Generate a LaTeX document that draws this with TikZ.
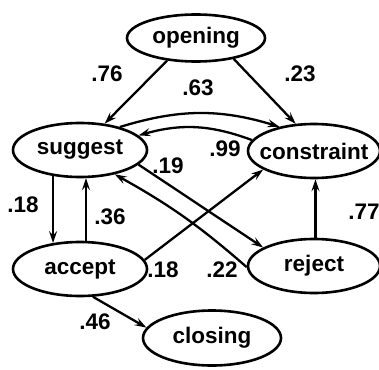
\documentclass[tikz,border=0pt]{standalone}
\usepackage{fontspec}
\setmainfont{Liberation Sans}
\usetikzlibrary{shapes.geometric,arrows.meta}
% state label set in a zero-width box so the ellipse keeps its given size
\newcommand{\statelabel}[1]{\makebox[0pt]{#1}}
\begin{document}
\begin{tikzpicture}[x=1pt,y=-1pt,
  state/.style={ellipse,draw,line width=2.6pt,minimum width=134pt,minimum height=54pt,
    inner sep=0pt,font=\fontsize{22.5}{26}\selectfont\bfseries},
  trans/.style={line width=2.3pt,-{Stealth[length=12pt,width=8pt,inset=4.5pt]}},
  prob/.style={font=\fontsize{22.5}{26}\selectfont\bfseries,inner sep=0pt}]
\useasboundingbox (0,0) rectangle (379,369);
% states
\node[state,minimum width=138pt,minimum height=47pt] (opening) at (196,38) {\statelabel{opening}};
\node[state] (suggest) at (80,150) {\statelabel{suggest}};
\node[state,minimum width=132pt] (constraint) at (314,151) {\statelabel{constraint}};
\node[state] (accept) at (80,269) {\statelabel{accept}};
\node[state,minimum width=132pt] (reject) at (314,266) {\statelabel{reject}};
\node[state,minimum width=138pt,minimum height=55pt] (closing) at (212,338) {\statelabel{closing}};
% transitions
\draw[trans] (opening.218) -- (suggest.47);
\draw[trans] (opening.331) -- (constraint.124);
\draw[trans] (suggest.30) to[bend left=17] (constraint.145);
\draw[trans] (constraint.170) to[bend right=18] (suggest.14);
\draw[trans] (suggest.224) -- (accept.136);
\draw[trans] (accept.78) -- (suggest.282);
\draw[trans] (suggest.346) -- (reject.160);
\draw[trans] (reject.181) to[bend right=6] (suggest.325);
\draw[trans] (accept.8) -- (constraint.200);
\draw[trans] (reject.87) -- (constraint.273);
\draw[trans] (accept.295) -- (closing.171);
% probabilities
\node[prob] (p1) at (107,74) {.76};
\node[prob] (p2) at (198,88) {.63};
\node[prob] (p3) at (300,74) {.23};
\node[prob] (p4) at (225,149) {.99};
\node[prob] (p5) at (168,166) {.19};
\node[prob] (p6) at (23,205) {.18};
\node[prob] (p7) at (110,217) {.36};
\node[prob] (p8) at (364,212) {.77};
\node[prob] (p9) at (163,270) {.18};
\node[prob] (p10) at (222,270) {.22};
\node[prob] (p11) at (95,322) {.46};
\end{tikzpicture}
\end{document}
